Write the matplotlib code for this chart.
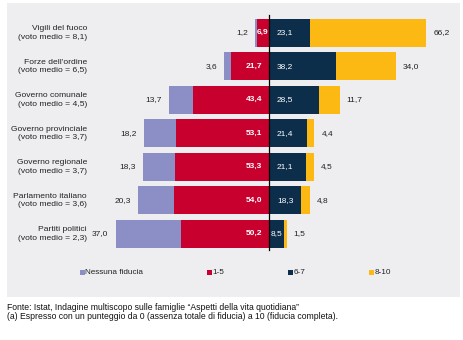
import matplotlib
matplotlib.use("Agg")
import matplotlib.pyplot as plt
from matplotlib.patches import Rectangle

plt.rcParams['font.family'] = ['Liberation Sans', 'DejaVu Sans']

categories = [
    "Vigili del fuoco\n(voto medio = 8,1)",
    "Forze dell'ordine\n(voto medio = 6,5)",
    "Governo comunale\n(voto medio = 4,5)",
    "Governo provinciale\n(voto medio = 3,7)",
    "Governo regionale\n(voto medio = 3,7)",
    "Parlamento italiano\n(voto medio = 3,6)",
    "Partiti politici\n(voto medio = 2,3)",
]
nessuna = [1.2, 3.6, 13.7, 18.2, 18.3, 20.3, 37.0]
uno_cinque = [6.9, 21.7, 43.4, 53.1, 53.3, 54.0, 50.2]
sei_sette = [23.1, 38.2, 28.5, 21.4, 21.1, 18.3, 8.5]
otto_dieci = [66.2, 34.0, 11.7, 4.4, 4.5, 4.8, 1.5]
series_names = ["Nessuna fiducia", "1-5", "6-7", "8-10"]

c_none = "#8C8FC5"
c_low = "#C8002D"
c_mid = "#0C2E4A"
c_high = "#FDB913"
bg = "#EEEEF1"

W, H = 464, 340
fig = plt.figure(figsize=(W / 100, H / 100), dpi=100)
fig.patch.set_facecolor("white")

def fx(px):
    return px / W

def fy(py):
    return 1 - py / H

# grey panel behind chart and legend
fig.patches.append(Rectangle((fx(7), fy(297)), fx(460) - fx(7), fy(3) - fy(297),
                             transform=fig.transFigure, facecolor=bg,
                             edgecolor="none", zorder=-5))

ppu = 1.76  # pixels per percentage point
x0px = 269
ax_l, ax_r = 100, 450
ax_t, ax_b = 16, 250.5
ax = fig.add_axes([fx(ax_l), fy(ax_b), fx(ax_r) - fx(ax_l), fy(ax_t) - fy(ax_b)])
ax.set_zorder(1)
ax.set_xlim((ax_l - x0px) / ppu, (ax_r - x0px) / ppu)
ax.set_ylim(6.5, -0.5)
ax.axis("off")
ax.patch.set_alpha(0)

y = list(range(len(categories)))
h = 0.84
neg_low = [-v for v in uno_cinque]
neg_none = [-(a + b) for a, b in zip(uno_cinque, nessuna)]
ax.barh(y, nessuna, left=neg_none, height=h, color=c_none, linewidth=0)
ax.barh(y, uno_cinque, left=neg_low, height=h, color=c_low, linewidth=0)
ax.barh(y, sei_sette, left=0, height=h, color=c_mid, linewidth=0)
ax.barh(y, otto_dieci, left=sei_sette, height=h, color=c_high, linewidth=0)
ax.plot([0, 0], [-0.52, 6.48], color="black", lw=0.9, zorder=5, clip_on=False)

fmt = lambda v: f"{v:.1f}".replace(".", ",")
off = 7 / ppu
fs = 6.0
for i in y:
    ax.text(neg_none[i] - off, i, fmt(nessuna[i]), ha="right", va="center",
            fontsize=fs, color="#222222")
    if uno_cinque[i] < 10:
        ax.text(-uno_cinque[i] / 2, i, fmt(uno_cinque[i]), ha="center", va="center",
                fontsize=fs, color="white", fontweight="bold", zorder=6)
    else:
        ax.text(-off, i, fmt(uno_cinque[i]), ha="right", va="center",
                fontsize=fs, color="white", fontweight="bold", zorder=6)
    if sei_sette[i] < 10:
        ax.text(sei_sette[i] / 2, i, fmt(sei_sette[i]), ha="center", va="center",
                fontsize=fs, color="white", zorder=6)
    else:
        ax.text(8 / ppu, i, fmt(sei_sette[i]), ha="left", va="center",
                fontsize=fs, color="white", zorder=6)
    ax.text(sei_sette[i] + otto_dieci[i] + off, i, fmt(otto_dieci[i]),
            ha="left", va="center", fontsize=fs, color="#222222")

# category labels
for i, lab in enumerate(categories):
    ypx = 33 + 33.5 * i
    fig.text(fx(87), fy(ypx), lab, ha="right", va="center", fontsize=6.1,
             color="#222222", linespacing=1.25)

# legend
leg_x = [82, 209, 290, 371]
for xm, name, col in zip(leg_x, series_names, [c_none, c_low, c_mid, c_high]):
    fig.patches.append(Rectangle((fx(xm - 2), fy(274.5)), fx(5), 5 / H,
                                 transform=fig.transFigure, facecolor=col,
                                 edgecolor="none", zorder=2))
    fig.text(fx(xm + 3.5), fy(272), name, ha="left", va="center",
             fontsize=5.9, color="#222222")

fig.text(fx(7), fy(307), "Fonte: Istat, Indagine multiscopo sulle famiglie \u201cAspetti della vita quotidiana\u201d",
         ha="left", va="center", fontsize=6.2, color="#111111")
fig.text(fx(7), fy(316.5), "(a) Espresso con un punteggio da 0 (assenza totale di fiducia) a 10 (fiducia completa).",
         ha="left", va="center", fontsize=6.2, color="#111111")

fig.savefig("out.png", dpi=100)
